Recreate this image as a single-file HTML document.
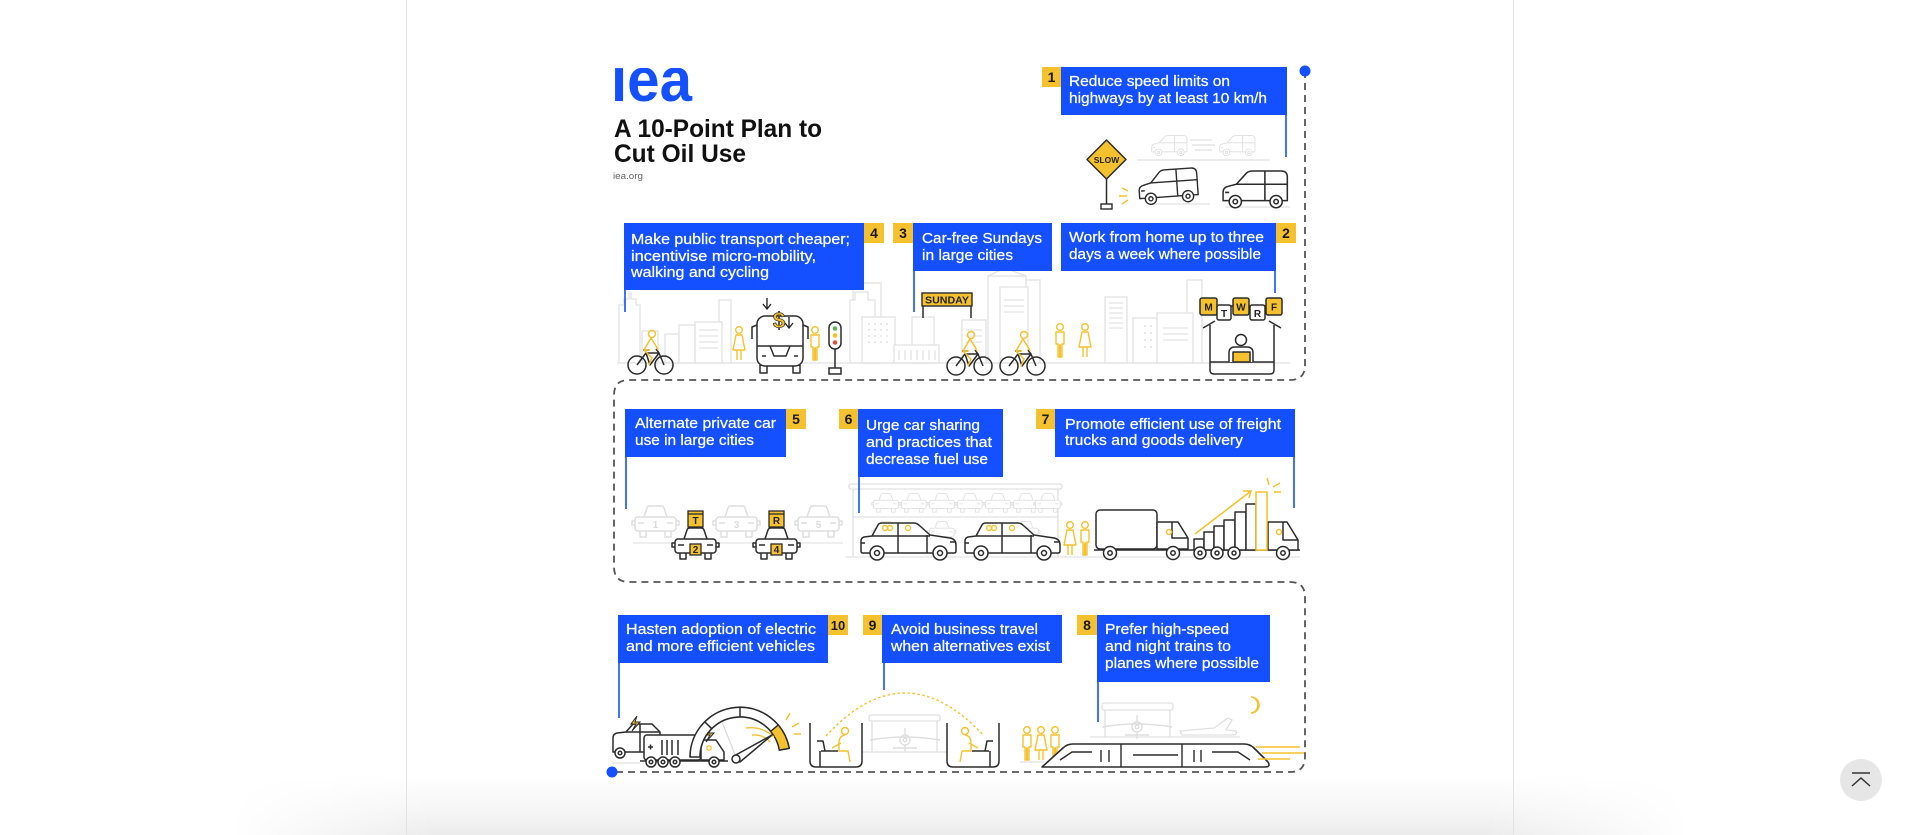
<!DOCTYPE html>
<html><head><meta charset="utf-8">
<style>
html,body{margin:0;padding:0;background:#fff;width:1920px;height:835px;overflow:hidden;}
#wrap{position:relative;width:1920px;height:835px;overflow:hidden;background:#fff;}
.border{position:absolute;top:0;height:835px;width:1px;background:#e3e3e3;}
.shadow{position:absolute;left:230px;top:775px;width:1460px;height:60px;
  background:linear-gradient(to bottom, rgba(0,0,0,0) 0%, rgba(0,0,0,0.035) 55%, rgba(0,0,0,0.075) 100%);
  -webkit-mask-image:linear-gradient(to right, transparent 0%, #000 14%, #000 86%, transparent 100%);
  mask-image:linear-gradient(to right, transparent 0%, #000 14%, #000 86%, transparent 100%);}
svg{position:absolute;left:0;top:0;}
</style></head><body>
<div id="wrap">
<div class="shadow"></div>
<div class="border" style="left:406px"></div>
<div class="border" style="left:1513px"></div>
<svg width="1920" height="835" viewBox="0 0 1920 835" xmlns="http://www.w3.org/2000/svg" font-family="'Liberation Sans', Arial, sans-serif">
<defs>
  <clipPath id="logoclip"><rect x="600" y="68" width="120" height="40"/></clipPath>
  <g id="van" fill="#fff" stroke="currentColor" stroke-width="1.5" stroke-linejoin="round">
    <path d="M3,30 L3,22 Q3,17 8,16 L16,14 L26,3 Q28,1 32,1 L60,1 Q66,1 66,7 L66,30 Z"/>
    <path d="M16,14 H66 M44,1 V30 M5,22 H9" fill="none"/>
    <circle cx="15" cy="31" r="6"/><circle cx="15" cy="31" r="2.2"/>
    <circle cx="55" cy="31" r="6"/><circle cx="55" cy="31" r="2.2"/>
  </g>
  <g id="sedan" fill="#fff" stroke="currentColor" stroke-width="1.5" stroke-linejoin="round">
    <path d="M1,28 V18 Q1,15 4,14 L12,13 L18,2 Q19,0 22,0 L54,0 Q57,0 60,3 L70,12 L90,15 Q96,16 96,22 V28 Q96,30 94,30 H3 Q1,30 1,28 Z"/>
    <path d="M12,13 H70 M38,0 V30 M67,12 V30 M1,20 H5 M90,19 H96" fill="none"/>
    <circle cx="17" cy="30" r="7"/><circle cx="17" cy="30" r="2.5"/>
    <circle cx="80" cy="30" r="7"/><circle cx="80" cy="30" r="2.5"/>
  </g>
  <g id="fcar" fill="#fff" stroke="currentColor" stroke-width="1.5" stroke-linejoin="round">
    <path d="M6,26 V32 H12 V26 M31,26 V32 H37 V26"/>
    <path d="M10,12 L13,3 Q13.5,1 16,1 H27 Q29.5,1 30,3 L33,12"/>
    <rect x="1" y="12" width="41" height="14" rx="3"/>
    <path d="M1,16 H-2 V20 H1 M42,16 H45 V20 H42 M4,18 H10 M33,18 H39" fill="none"/>
  </g>
  <g id="bike">
    <g fill="none" stroke="#2b2b2b" stroke-width="1.5" stroke-linejoin="round">
      <circle cx="0" cy="0" r="9"/><circle cx="27" cy="0" r="9"/>
      <path d="M0,0 L9,-12 L22,-12 L27,0 M9,-12 L13,0 L22,-12 M6,-15 H12 M19,-16 L22,-12"/>
    </g>
    <g fill="none" stroke="#f5c12e" stroke-width="1.5" stroke-linejoin="round">
      <circle cx="15" cy="-31" r="3.5"/>
      <path d="M14,-27 L7,-15 L15,-7 L12,0 M14,-27 L19,-19 L21,-15 M7,-15 L13,-15"/>
    </g>
  </g>
  <g id="man" fill="none" stroke="#f5c12e" stroke-width="1.4" stroke-linejoin="round">
    <circle cx="0" cy="0" r="3.3"/>
    <path d="M-4,5 H4 V17 H2 V30 H0.4 V18 H-0.4 V30 H-2 V17 H-4 Z"/>
  </g>
  <g id="woman" fill="none" stroke="#f5c12e" stroke-width="1.4" stroke-linejoin="round">
    <circle cx="0" cy="0" r="3.3"/>
    <path d="M-3,5 H3 L6,20 H-6 Z M-2,20 V30 M2,20 V30"/>
  </g>
  <g id="plane" fill="none" stroke="#dedede" stroke-width="1.4">
    <path d="M-35,0 Q0,-6 35,0 M-12,8 H12"/>
    <circle cx="0" cy="0" r="5"/><circle cx="0" cy="0" r="1.8"/>
    <path d="M0,-12 V-5 M0,5 V12"/>
  </g>
</defs>

<!-- Logo & title -->
<text x="611" y="101" font-size="62" font-weight="bold" fill="#1450ff" textLength="81" lengthAdjust="spacingAndGlyphs" clip-path="url(#logoclip)">iea</text>
<text x="614" y="137" font-size="25" font-weight="bold" fill="#111" textLength="208" lengthAdjust="spacingAndGlyphs">A 10-Point Plan to</text>
<text x="614" y="162" font-size="25" font-weight="bold" fill="#111" textLength="132" lengthAdjust="spacingAndGlyphs">Cut Oil Use</text>
<text x="613" y="179" font-size="9.5" fill="#666" textLength="30" lengthAdjust="spacingAndGlyphs">iea.org</text>

<!-- ===== Row 1 skyline (gray) ===== -->
<g fill="#fff" stroke="#e2e2e2" stroke-width="1.3">
  <rect x="853" y="283" width="28" height="80"/>
  <rect x="988" y="276" width="38" height="87"/>
  <path d="M988,276 L1005,268 L1026,276" fill="none"/>
  <rect x="1026" y="280" width="14" height="83"/>
  <rect x="1187" y="280" width="15" height="83"/>
  <path d="M619,363 V305 H624 V299 H629 V293 H631 V299 H636 V305 H640 V363"/>
  <rect x="719" y="300" width="12" height="63"/>
  <rect x="642" y="331" width="16" height="32"/>
  <rect x="665" y="334" width="14" height="29"/>
  <rect x="679" y="325" width="16" height="38"/>
  <rect x="695" y="322" width="27" height="41"/>
  <path d="M699,330 H718 M699,336 H718 M699,342 H718 M699,348 H718" fill="none"/>
  <path d="M850,363 V300 H855 V292 H868 V300 H875 V363"/>
  <rect x="862" y="317" width="33" height="46"/>
  <path d="M868,324 h2 M874,324 h2 M880,324 h2 M886,324 h2 M868,330 h2 M874,330 h2 M880,330 h2 M886,330 h2 M868,336 h2 M874,336 h2 M880,336 h2 M886,336 h2 M868,342 h2 M874,342 h2 M880,342 h2 M886,342 h2" fill="none" stroke-width="1.6"/>
  <rect x="912" y="317" width="22" height="46"/>
  <rect x="894" y="345" width="45" height="18"/>
  <path d="M899,350 V360 M905,350 V360 M911,350 V360 M917,350 V360 M923,350 V360 M929,350 V360 M935,350 V360" fill="none"/>
  <rect x="962" y="320" width="24" height="43"/>
  <path d="M966,330 H982 M966,336 H982 M966,342 H982" fill="none"/>
  <rect x="1000" y="287" width="28" height="76"/>
  <path d="M1004,300 H1024 M1004,306 H1024 M1004,312 H1024" fill="none"/>
  <rect x="1105" y="297" width="22" height="66"/>
  <path d="M1109,303 H1123 M1109,308 H1123 M1109,313 H1123 M1109,318 H1123 M1109,323 H1123 M1109,328 H1123" fill="none"/>
  <rect x="1133" y="318" width="24" height="45"/>
  <path d="M1144,326 h2 M1150,326 h2 M1144,333 h2 M1150,333 h2 M1144,340 h2 M1150,340 h2 M1144,347 h2 M1150,347 h2" fill="none" stroke-width="1.6"/>
  <rect x="1157" y="313" width="36" height="50"/>
  <path d="M1163,328 H1188 M1163,334 H1188 M1163,340 H1188" fill="none"/>
  <path d="M617,363 H1290" fill="none"/>
</g>

<!-- Row 1 top-right: slow sign and vans -->
<g>
  <use href="#van" x="0" y="0" color="#dedede" transform="translate(1150,135) scale(0.56)"/>
  <use href="#van" x="0" y="0" color="#dedede" transform="translate(1218,135) scale(0.56)"/>
  <path d="M1190,140 H1212 M1192,145 H1215 M1195,150 H1212 M1137,160 H1270 M1150,204 H1210 M1225,207 H1290" stroke="#e0e0e0" stroke-width="1.3" fill="none"/>
  <path d="M1106.5,179 V205" stroke="#2b2b2b" stroke-width="1.5"/>
  <rect x="1101" y="204" width="11" height="5" fill="#fff" stroke="#2b2b2b" stroke-width="1.4"/>
  <path d="M1106.5,140 L1126,159.5 L1106.5,179 L1087,159.5 Z" fill="#f5c12e" stroke="#2b2b2b" stroke-width="1.5" stroke-linejoin="round"/>
  <text x="1106.5" y="163" font-size="8.5" font-weight="bold" fill="#222" text-anchor="middle">SLOW</text>
  <use href="#van" x="0" y="0" color="#2b2b2b" transform="translate(1135,171) rotate(-4) scale(0.93)"/>
  <use href="#van" x="0" y="0" color="#2b2b2b" transform="translate(1220,170) scale(1.02)"/>
  <path d="M1122,188 L1128,191 M1119,196 L1127,196 M1122,204 L1128,200" stroke="#f5c12e" stroke-width="1.4"/>
</g>

<!-- Row 1 foreground -->
<use href="#bike" x="637" y="365"/>
<use href="#woman" x="739" y="330"/>
<g fill="#fff" stroke="#2b2b2b" stroke-width="1.5" stroke-linejoin="round">
  <rect x="760" y="365" width="7" height="8"/>
  <rect x="793" y="365" width="7" height="8"/>
  <rect x="757" y="316" width="46" height="50" rx="8"/>
  <path d="M757,346 H803 M757,325 L752,327 V339 M803,325 L808,327 V339 M762,356 H766 M794,356 H798 M770,346 L774,356 H786 L790,346" fill="none"/>
</g>
<path d="M767,298 V308 M763,304 L767,309 L771,304 M789,317 V327 M785,323 L789,328 L793,323" fill="none" stroke="#2b2b2b" stroke-width="1.4"/>
<text x="779" y="328" font-size="22" font-weight="bold" fill="#f5c12e" stroke="#2b2b2b" stroke-width="0.7" text-anchor="middle">$</text>
<use href="#man" x="815" y="330"/>
<g stroke="#2b2b2b" stroke-width="1.5" fill="#fff">
  <path d="M835,348 V368" fill="none"/>
  <rect x="829" y="368" width="12" height="6"/>
  <rect x="829" y="322" width="12" height="27" rx="6"/>
  <circle cx="835" cy="328.5" r="2.3" fill="#5fb35f" stroke="none"/>
  <circle cx="835" cy="335.5" r="2.3" fill="#f5c12e" stroke="none"/>
  <circle cx="835" cy="342.5" r="2.3" fill="#e0504a" stroke="none"/>
</g>
<path d="M923,306 V318 M971,306 V318" stroke="#2b2b2b" stroke-width="1.5"/>
<rect x="922" y="293" width="50" height="13" fill="#f5c12e" stroke="#2b2b2b" stroke-width="1.4"/>
<text x="947" y="303.5" font-size="10" font-weight="bold" fill="#222" text-anchor="middle" textLength="44" lengthAdjust="spacingAndGlyphs">SUNDAY</text>
<use href="#bike" x="956" y="366"/>
<use href="#bike" x="1009" y="366"/>
<use href="#man" x="1060" y="327"/>
<use href="#woman" x="1085" y="327"/>
<!-- kiosk -->
<g stroke="#2b2b2b" stroke-width="1.5" stroke-linejoin="round" fill="none">
  <path d="M1210,325 V370 Q1210,374 1214,374 H1270 Q1274,374 1274,370 V325 M1210,362 H1274 M1203,328 L1215,321 M1281,328 L1269,321 M1208,306 H1276"/>
  <circle cx="1241" cy="340" r="5.5" fill="#fff"/>
  <path d="M1229,362 V353 Q1229,347 1235,347 H1247 Q1253,347 1253,353 V362" fill="#fff"/>
  <rect x="1233" y="352" width="17" height="10" fill="#f5c12e"/>
  <rect x="1200" y="298" width="17" height="17" rx="2" fill="#f5c12e"/>
  <rect x="1217" y="305" width="14" height="15" rx="2" fill="#fff"/>
  <rect x="1233" y="298" width="16" height="17" rx="2" fill="#f5c12e"/>
  <rect x="1250" y="305" width="15" height="15" rx="2" fill="#fff"/>
  <rect x="1266" y="298" width="16" height="17" rx="2" fill="#f5c12e"/>
</g>
<g font-size="10" font-weight="bold" fill="#222" text-anchor="middle">
  <text x="1208.5" y="310.5">M</text><text x="1224" y="317">T</text><text x="1241" y="310.5">W</text><text x="1257.5" y="317">R</text><text x="1274" y="310.5">F</text>
</g>

<!-- ===== Row 2 ===== -->
<path d="M633,543 H843" stroke="#e3e3e3" stroke-width="1.3"/>
<use href="#fcar" x="634" y="505" color="#dedede"/>
<use href="#fcar" x="715" y="505" color="#dedede"/>
<use href="#fcar" x="797" y="505" color="#dedede"/>
<g font-size="10" font-weight="bold" fill="#dcdcdc" text-anchor="middle">
  <text x="655.5" y="528">1</text><text x="736.5" y="528">3</text><text x="818.5" y="528">5</text>
</g>
<use href="#fcar" x="674" y="527" color="#2b2b2b"/>
<use href="#fcar" x="755" y="527" color="#2b2b2b"/>
<g stroke="#2b2b2b" stroke-width="1.3" fill="#f5c12e">
  <rect x="688" y="511" width="15" height="16"/><path d="M688,514 H703" fill="none"/>
  <rect x="769" y="511" width="15" height="16"/><path d="M769,514 H784" fill="none"/>
  <rect x="690" y="544" width="11" height="11"/>
  <rect x="771" y="544" width="11" height="11"/>
</g>
<g font-size="10" font-weight="bold" fill="#222" text-anchor="middle">
  <text x="695.5" y="524">T</text><text x="776.5" y="524">R</text>
  <text x="695.5" y="553">2</text><text x="776.5" y="553">4</text>
</g>
<!-- parking structure -->
<g stroke="#e0e0e0" stroke-width="1.3" fill="none">
  <rect x="849" y="484" width="213" height="5" rx="2"/>
  <path d="M853,489 V557 M1058,489 V557 M853,517 H1058"/>
</g>
<g color="#e0e0e0">
  <use href="#fcar" x="0" y="0" transform="translate(873,493) scale(0.6)"/>
  <use href="#fcar" x="0" y="0" transform="translate(901,493) scale(0.6)"/>
  <use href="#fcar" x="0" y="0" transform="translate(929,493) scale(0.6)"/>
  <use href="#fcar" x="0" y="0" transform="translate(957,493) scale(0.6)"/>
  <use href="#fcar" x="0" y="0" transform="translate(985,493) scale(0.6)"/>
  <use href="#fcar" x="0" y="0" transform="translate(1013,493) scale(0.6)"/>
  <use href="#fcar" x="0" y="0" transform="translate(1035,493) scale(0.6)"/>
  <use href="#fcar" x="0" y="0" transform="translate(873,521) scale(0.6)"/>
  <use href="#fcar" x="0" y="0" transform="translate(929,521) scale(0.6)"/>
  <use href="#fcar" x="0" y="0" transform="translate(1013,521) scale(0.6)"/>
</g>
<path d="M845,557 H1300" stroke="#e3e3e3" stroke-width="1.3"/>
<use href="#sedan" x="860" y="523" color="#2b2b2b"/>
<use href="#sedan" x="964" y="523" color="#2b2b2b"/>
<g fill="none" stroke="#f5c12e" stroke-width="1.4">
  <circle cx="885" cy="528" r="2.5"/><circle cx="890" cy="528" r="2.5"/><circle cx="908" cy="528" r="2.5"/>
  <circle cx="989" cy="528" r="2.5"/><circle cx="994" cy="528" r="2.5"/><circle cx="1012" cy="528" r="2.5"/>
</g>
<use href="#woman" x="1070" y="525"/>
<use href="#man" x="1085" y="525"/>
<!-- truck -->
<g stroke="#2b2b2b" stroke-width="1.5" stroke-linejoin="round" fill="#fff">
  <rect x="1096" y="510" width="61" height="39" rx="4"/>
  <path d="M1157,549 V522 H1178 L1188,538 V549 Z"/>
  <path d="M1172,522 V538 H1188 M1094,550 H1300" fill="none"/>
  <rect x="1194" y="539" width="10" height="11"/>
  <rect x="1204" y="532" width="10" height="18"/>
  <rect x="1214" y="526" width="10" height="24"/>
  <rect x="1224" y="520" width="11" height="30"/>
  <rect x="1235" y="512" width="11" height="38"/>
  <rect x="1246" y="504" width="10" height="46"/>
  <path d="M1268,550 V522 H1287 L1298,540 V550 Z"/>
  <path d="M1283,522 V540 H1298" fill="none"/>
  <circle cx="1110" cy="553" r="6.5"/><circle cx="1110" cy="553" r="2.2"/>
  <circle cx="1173" cy="553" r="6.5"/><circle cx="1173" cy="553" r="2.2"/>
  <circle cx="1200" cy="553" r="6"/><circle cx="1200" cy="553" r="2"/>
  <circle cx="1217" cy="553" r="6"/><circle cx="1217" cy="553" r="2"/>
  <circle cx="1234" cy="553" r="6"/><circle cx="1234" cy="553" r="2"/>
  <circle cx="1283" cy="553" r="6.5"/><circle cx="1283" cy="553" r="2.2"/>
</g>
<g stroke="#f5c12e" stroke-width="1.5" fill="none">
  <rect x="1256" y="492" width="11" height="58" fill="#fff"/>
  <path d="M1195,534 L1251,491 M1243,491 L1251,491 L1249,498"/>
  <path d="M1267,478 L1269,485 M1273,487 L1280,483 M1274,492 H1281"/>
  <circle cx="1169" cy="532" r="2.5"/><circle cx="1279" cy="532" r="2.5"/>
</g>

<!-- ===== Row 3 ===== -->
<g stroke="#e0e0e0" stroke-width="1.3" fill="none">
  <path d="M612,763 H640"/>
  <rect x="869" y="715" width="71" height="6" rx="2"/>
  <path d="M872,721 V752 M937,721 V752 M862,752 H947"/>
  <rect x="1102" y="703" width="71" height="7" rx="2"/>
  <path d="M1105,710 V737 M1170,710 V737 M1090,737 H1240 M1020,762 H1044"/>
  <path d="M1180,731 L1214,728 L1228,718 L1232,720 L1226,730 L1236,731 Q1238,735 1232,735 H1182 Z"/>
</g>
<use href="#plane" x="905" y="740"/>
<use href="#plane" x="1137" y="727"/>
<!-- EV car and battery truck -->
<g stroke="#2b2b2b" stroke-width="1.5" stroke-linejoin="round" fill="#fff">
  <path d="M613,752 V738 Q613,734 617,733 L626,732 L633,724 H652 L660,732 V752 Z"/>
  <path d="M626,732 H660 M640,724 V752" fill="none"/>
  <circle cx="620" cy="753" r="5"/><circle cx="620" cy="753" r="1.8"/>
  <rect x="644" y="735" width="57" height="25" rx="3"/>
  <path d="M701,760 V740 H716 L724,752 V760 Z"/>
  <path d="M662,740 V755 M667,740 V755 M672,740 V755 M678,740 V755 M648,747 H653 M650.5,744.5 V749.5 M691,747 H696 M640,761 H728" fill="none"/>
  <circle cx="651" cy="762" r="5"/><circle cx="651" cy="762" r="1.8"/>
  <circle cx="663" cy="762" r="5"/><circle cx="663" cy="762" r="1.8"/>
  <circle cx="675" cy="762" r="5"/><circle cx="675" cy="762" r="1.8"/>
  <circle cx="714" cy="762" r="5"/><circle cx="714" cy="762" r="1.8"/>
</g>
<path d="M637,716 L631,724 H636 L632,731 L640,722 H635 Z M711,727 L705,735 H710 L706,742 L714,733 H709 Z" fill="#f5c12e" stroke="#2b2b2b" stroke-width="1"/>
<circle cx="709" cy="748" r="2.2" fill="none" stroke="#f5c12e" stroke-width="1.3"/>
<!-- gauge -->
<path d="M690,757 A50,50 0 0 1 789.2,748.3 L779.4,750.1 A40,40 0 0 0 700,757 Z" fill="#fff" stroke="#2b2b2b" stroke-width="1.6" stroke-linejoin="round"/>
<path d="M778.3,724.9 A50,50 0 0 1 789.2,748.3 L779.4,750.1 A40,40 0 0 0 770.6,731.3 Z" fill="#f5c12e" stroke="#2b2b2b" stroke-width="1.4"/>
<path d="M740,707 V717 M704.6,721.6 L711.7,728.7" stroke="#2b2b2b" stroke-width="1.5"/>
<path d="M736,757 L722,722" stroke="#dcdcdc" stroke-width="1.3"/>
<path d="M746,728 Q762,726 774,737 M752,735 Q763,734 770,742 M786,720 L790,713 M792,727 L799,723 M794,734 H801" stroke="#f5c12e" stroke-width="1.4" fill="none"/>
<path d="M734,756 L772,735 L740,762 Z" fill="#fff" stroke="#2b2b2b" stroke-width="1.5" stroke-linejoin="round"/>
<circle cx="736" cy="759" r="4" fill="#fff" stroke="#2b2b2b" stroke-width="1.5"/>
<!-- video call -->
<g stroke="#2b2b2b" stroke-width="1.5" fill="none" stroke-linejoin="round">
  <path d="M810,723 V761 Q810,767 816,767 H856 Q862,767 862,761 V723"/>
  <path d="M947,723 V761 Q947,767 953,767 H993 Q999,767 999,761 V723"/>
  <path d="M821,751 H838 M817,741 L823,741 L825,751 M820,751 V767 M989,751 H972 M993,741 H987 L985,751 M990,751 V767"/>
</g>
<g stroke="#f5c12e" stroke-width="1.4" fill="none" stroke-linejoin="round">
  <circle cx="845" cy="731" r="3.5"/>
  <path d="M845,735 Q839,736 839,743 V751 H848 L850,762 M841,743 L832,748"/>
  <circle cx="965" cy="731" r="3.5"/>
  <path d="M965,735 Q971,736 971,743 V751 H962 L960,762 M969,743 L978,748"/>
  <path d="M826,736 Q905,650 984,736" stroke-dasharray="2.5 2.5"/>
</g>
<use href="#man" x="1027" y="730"/>
<use href="#woman" x="1041" y="730"/>
<use href="#man" x="1055" y="730"/>
<!-- train -->
<path d="M1042,767 L1063,748 Q1067,744 1073,744 H1244 Q1250,744 1254,748 L1268,762 Q1271,767 1265,767 Z" fill="#fff" stroke="#2b2b2b" stroke-width="1.6" stroke-linejoin="round"/>
<path d="M1060,760 L1072,752 H1092 M1133,755 H1178 M1212,752 H1238 L1250,760 M1101,750 V762 M1109,750 V762 M1194,750 V762 M1201,750 V762 M1121,744 V767 M1182,744 V767" stroke="#2b2b2b" stroke-width="1.4" fill="none"/>
<path d="M1256,747 H1300 M1262,753 H1306 M1258,759 H1290" stroke="#f5c12e" stroke-width="1.4"/>
<path d="M1251,697 A8,8 0 1 1 1251,713 A6,7 0 0 0 1251,697 Z" fill="#fff" stroke="#f5c12e" stroke-width="1.6"/>

<!-- ===== Dashed path ===== -->
<path d="M1305,71 V365 Q1305,380 1290,380 H629 Q614,380 614,395 V567 Q614,582 629,582 H1290 Q1305,582 1305,597 V757 Q1305,772 1290,772 H612" fill="none" stroke="#555" stroke-width="1.8" stroke-dasharray="7 5"/>
<circle cx="1305" cy="71" r="5.5" fill="#1450ff"/>
<circle cx="612" cy="772" r="5.5" fill="#1450ff"/>

<!-- ===== Blue boxes ===== -->
<g fill="#1450ff">
  <rect x="1061" y="67" width="226" height="48"/>
  <rect x="624" y="223" width="240" height="67"/>
  <rect x="913" y="223" width="139" height="48"/>
  <rect x="1061" y="223" width="215" height="48"/>
  <rect x="625" y="409" width="161" height="48"/>
  <rect x="858" y="409" width="145" height="68"/>
  <rect x="1055" y="409" width="240" height="48"/>
  <rect x="618" y="615" width="210" height="48"/>
  <rect x="882" y="615" width="180" height="48"/>
  <rect x="1097" y="615" width="173" height="67"/>
</g>
<g stroke="#1450ff" stroke-width="1.6">
  <path d="M1286,115 V157 M625,290 V312 M914,271 V312 M1275,271 V293 M626,457 V509 M859,477 V513 M1294,457 V508 M619,663 V718 M884,663 V690 M1098,682 V722"/>
</g>
<g fill="#f5c12e">
  <rect x="1042" y="67" width="19" height="20"/>
  <rect x="864" y="223" width="20" height="20"/>
  <rect x="893" y="223" width="20" height="20"/>
  <rect x="1276" y="223" width="20" height="20"/>
  <rect x="786" y="409" width="20" height="20"/>
  <rect x="839" y="409" width="19" height="20"/>
  <rect x="1036" y="409" width="19" height="20"/>
  <rect x="828" y="615" width="20" height="20"/>
  <rect x="863" y="615" width="19" height="20"/>
  <rect x="1077" y="615" width="20" height="20"/>
</g>
<g font-size="14" font-weight="bold" fill="#1a1a1a" text-anchor="middle">
  <text x="1051.5" y="82">1</text>
  <text x="874" y="238">4</text>
  <text x="903" y="238">3</text>
  <text x="1286" y="238">2</text>
  <text x="796" y="424">5</text>
  <text x="848.5" y="424">6</text>
  <text x="1045.5" y="424">7</text>
  <text x="838" y="630" font-size="13">10</text>
  <text x="872.5" y="630">9</text>
  <text x="1087" y="630">8</text>
</g>
<g font-size="15" fill="#fff" stroke="#fff" stroke-width="0.25">
  <text x="1069" y="86" textLength="161" lengthAdjust="spacingAndGlyphs">Reduce speed limits on</text>
  <text x="1069" y="103" textLength="198" lengthAdjust="spacingAndGlyphs">highways by at least 10 km/h</text>
  <text x="631" y="244" textLength="219" lengthAdjust="spacingAndGlyphs">Make public transport cheaper;</text>
  <text x="631" y="261" textLength="185" lengthAdjust="spacingAndGlyphs">incentivise micro-mobility,</text>
  <text x="631" y="277" textLength="138" lengthAdjust="spacingAndGlyphs">walking and cycling</text>
  <text x="922" y="243" textLength="120" lengthAdjust="spacingAndGlyphs">Car-free Sundays</text>
  <text x="922" y="260" textLength="91" lengthAdjust="spacingAndGlyphs">in large cities</text>
  <text x="1069" y="242" textLength="195" lengthAdjust="spacingAndGlyphs">Work from home up to three</text>
  <text x="1069" y="259" textLength="192" lengthAdjust="spacingAndGlyphs">days a week where possible</text>
  <text x="635" y="428" textLength="141" lengthAdjust="spacingAndGlyphs">Alternate private car</text>
  <text x="635" y="445" textLength="119" lengthAdjust="spacingAndGlyphs">use in large cities</text>
  <text x="866" y="430" textLength="114" lengthAdjust="spacingAndGlyphs">Urge car sharing</text>
  <text x="866" y="447" textLength="126" lengthAdjust="spacingAndGlyphs">and practices that</text>
  <text x="866" y="464" textLength="122" lengthAdjust="spacingAndGlyphs">decrease fuel use</text>
  <text x="1065" y="429" textLength="216" lengthAdjust="spacingAndGlyphs">Promote efficient use of freight</text>
  <text x="1065" y="445" textLength="178" lengthAdjust="spacingAndGlyphs">trucks and goods delivery</text>
  <text x="626" y="634" textLength="190" lengthAdjust="spacingAndGlyphs">Hasten adoption of electric</text>
  <text x="626" y="651" textLength="189" lengthAdjust="spacingAndGlyphs">and more efficient vehicles</text>
  <text x="891" y="634" textLength="147" lengthAdjust="spacingAndGlyphs">Avoid business travel</text>
  <text x="891" y="651" textLength="159" lengthAdjust="spacingAndGlyphs">when alternatives exist</text>
  <text x="1105" y="634" textLength="124" lengthAdjust="spacingAndGlyphs">Prefer high-speed</text>
  <text x="1105" y="651" textLength="126" lengthAdjust="spacingAndGlyphs">and night trains to</text>
  <text x="1105" y="668" textLength="154" lengthAdjust="spacingAndGlyphs">planes where possible</text>
</g>

<!-- scroll to top button -->
<circle cx="1861" cy="780" r="21" fill="#e6e6e6"/>
<path d="M1852,773 H1870 M1852,786 L1861,778 L1870,786" stroke="#333" stroke-width="1.5" fill="none"/>
</svg>
</div>
</body></html>
